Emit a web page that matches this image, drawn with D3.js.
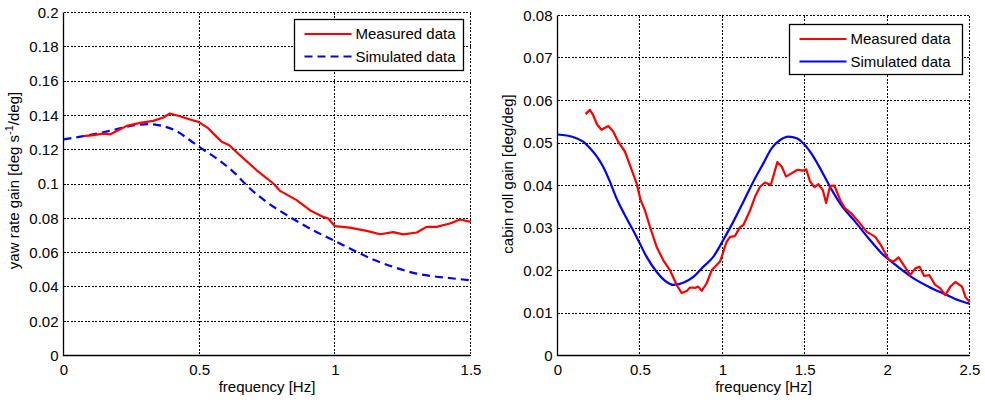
<!DOCTYPE html>
<html>
<head>
<meta charset="utf-8">
<script src="https://cdn.jsdelivr.net/npm/d3@7"></script>
<style>
    body { margin: 0; background: #fff; }
    svg text { font-family: "Liberation Sans", Arial, sans-serif; font-size: 15px; fill: #000; }
</style>
</head>
<body>
<div id="chart"></div>
<script>
// yaw rate gain (left panel)
const yawFreqMeas = [0.073, 0.11, 0.147, 0.171, 0.202, 0.233, 0.282, 0.331, 0.368, 0.392, 0.429, 0.466, 0.497, 0.534, 0.558, 0.583, 0.611, 0.650, 0.712, 0.773, 0.798, 0.859, 0.908, 0.957, 0.976, 1.0, 1.055, 1.117, 1.167, 1.215, 1.252, 1.302, 1.338, 1.375, 1.424, 1.461, 1.5];
const yawGainMeas = [0.1279, 0.1285, 0.1294, 0.1289, 0.1314, 0.1339, 0.1356, 0.1368, 0.1388, 0.1411, 0.1395, 0.1376, 0.1362, 0.1324, 0.1285, 0.1246, 0.1226, 0.1168, 0.108, 0.1003, 0.096, 0.0906, 0.0847, 0.0808, 0.0799, 0.0754, 0.0746, 0.0727, 0.0707, 0.0719, 0.0706, 0.0717, 0.075, 0.075, 0.077, 0.0793, 0.0779];
const yawFreqSim = [0, 0.073, 0.171, 0.256, 0.318, 0.368, 0.417, 0.466, 0.503, 0.564, 0.626, 0.687, 0.748, 0.834, 0.919, 1.0, 1.068, 1.141, 1.215, 1.289, 1.363, 1.437, 1.5];
const yawGainSim = [0.126, 0.1279, 0.131, 0.1341, 0.1349, 0.1337, 0.1308, 0.1255, 0.1213, 0.1149, 0.1071, 0.0974, 0.0896, 0.0808, 0.0731, 0.0668, 0.0614, 0.056, 0.0517, 0.0482, 0.0462, 0.0449, 0.0439];

// cabin roll gain (right panel)
const rollFreqMeas = [0.170, 0.196, 0.216, 0.241, 0.267, 0.308, 0.338, 0.368, 0.409, 0.45, 0.48, 0.504, 0.530, 0.561, 0.601, 0.642, 0.682, 0.723, 0.753, 0.784, 0.804, 0.834, 0.854, 0.875, 0.905, 0.936, 0.986, 0.996, 1.016, 1.027, 1.047, 1.077, 1.107, 1.128, 1.168, 1.199, 1.229, 1.259, 1.294, 1.334, 1.361, 1.387, 1.422, 1.456, 1.488, 1.509, 1.533, 1.559, 1.583, 1.610, 1.630, 1.654, 1.680, 1.715, 1.745, 1.786, 1.826, 1.877, 1.928, 1.968, 2.009, 2.039, 2.069, 2.100, 2.140, 2.171, 2.197, 2.225, 2.256, 2.292, 2.323, 2.353, 2.384, 2.414, 2.455, 2.475, 2.5];
const rollGainMeas = [0.0568, 0.0578, 0.0566, 0.0543, 0.0531, 0.054, 0.0527, 0.0503, 0.048, 0.0437, 0.0405, 0.0366, 0.0342, 0.0303, 0.0256, 0.0224, 0.0201, 0.0166, 0.0147, 0.0152, 0.016, 0.0159, 0.0162, 0.0152, 0.017, 0.0201, 0.0221, 0.0232, 0.0256, 0.0268, 0.0279, 0.0281, 0.0302, 0.0307, 0.0341, 0.0374, 0.0397, 0.0407, 0.0401, 0.0455, 0.0444, 0.0421, 0.0429, 0.0437, 0.0435, 0.0438, 0.0409, 0.0396, 0.0403, 0.0389, 0.0359, 0.0399, 0.04, 0.0366, 0.0346, 0.0333, 0.0315, 0.0291, 0.0279, 0.0256, 0.0226, 0.0221, 0.0231, 0.0213, 0.0189, 0.0205, 0.0209, 0.0187, 0.0189, 0.0166, 0.0158, 0.0142, 0.0162, 0.0173, 0.0162, 0.0138, 0.0126];
const rollFreqSim = [0, 0.095, 0.156, 0.196, 0.237, 0.277, 0.318, 0.358, 0.419, 0.48, 0.541, 0.601, 0.662, 0.702, 0.763, 0.824, 0.885, 0.945, 1.006, 1.067, 1.128, 1.188, 1.249, 1.300, 1.351, 1.401, 1.452, 1.492, 1.543, 1.604, 1.665, 1.725, 1.806, 1.887, 1.968, 2.051, 2.151, 2.252, 2.353, 2.434, 2.5];
const rollGainSim = [0.052, 0.0514, 0.0503, 0.0488, 0.0469, 0.0444, 0.0409, 0.0370, 0.0323, 0.0279, 0.0232, 0.0197, 0.0173, 0.0166, 0.0171, 0.0185, 0.0209, 0.0232, 0.0272, 0.0315, 0.0362, 0.0409, 0.0452, 0.0488, 0.0507, 0.0515, 0.0511, 0.0499, 0.0474, 0.0433, 0.0389, 0.0352, 0.0315, 0.0276, 0.024, 0.0213, 0.0184, 0.0162, 0.0144, 0.013, 0.0122];

const legendLabels = ['Measured data', 'Simulated data'];
const yawXTicks = [0, 0.5, 1, 1.5];
const yawYTicks = [0, 0.02, 0.04, 0.06, 0.08, 0.1, 0.12, 0.14, 0.16, 0.18, 0.2];
const rollXTicks = [0, 0.5, 1, 1.5, 2, 2.5];
const rollYTicks = [0, 0.01, 0.02, 0.03, 0.04, 0.05, 0.06, 0.07, 0.08];

const width = 985;
const height = 404;
const font = '"Liberation Sans", Arial, sans-serif';

const svg = d3.select('#chart')
    .append('svg')
    .attr('width', width)
    .attr('height', height);

svg.append('rect').attr('width', width).attr('height', height).attr('fill', '#fff');

const zip = (xs, ys) => xs.map((x, i) => [x, ys[i]]);
const snap = v => Math.round(v - 0.5) + 0.5;

/**
 * draws one panel: grid, frame, tick labels, lines and legend
 */
function panel (opts) {
    const x = d3.scaleLinear().domain(opts.xDomain).range([opts.left, opts.right]);
    const y = d3.scaleLinear().domain(opts.yDomain).range([opts.bottom, opts.top]);
    const g = svg.append('g');

    // GRID
    g.append('g')
        .selectAll('line')
        .data(opts.xTicks)
        .enter()
        .append('line')
        .attr('x1', d => snap(x(d))).attr('x2', d => snap(x(d)))
        .attr('y1', opts.top).attr('y2', opts.bottom)
        .attr('stroke', '#000').attr('stroke-width', 1)
        .attr('stroke-dasharray', '2,1.5')
        .attr('shape-rendering', 'crispEdges');

    g.append('g')
        .selectAll('line')
        .data(opts.yTicks)
        .enter()
        .append('line')
        .attr('y1', d => snap(y(d))).attr('y2', d => snap(y(d)))
        .attr('x1', opts.left).attr('x2', opts.right)
        .attr('stroke', '#000').attr('stroke-width', 1)
        .attr('stroke-dasharray', '2,1.5')
        .attr('shape-rendering', 'crispEdges');

    // FRAME (left / bottom solid)
    g.append('path')
        .attr('d', `M${opts.left} ${opts.top} V${opts.bottom} H${opts.right}`)
        .attr('fill', 'none').attr('stroke', '#000').attr('stroke-width', 1.3);

    // TICK LABELS
    const xAxis = d3.axisBottom(x).tickValues(opts.xTicks).tickSize(0).tickPadding(9)
        .tickFormat(d3.format('~g'));
    g.append('g')
        .attr('transform', `translate(0 ${opts.bottom})`)
        .call(xAxis)
        .call(s => s.select('.domain').remove())
        .selectAll('text')
        .style('font-size', '15px')
        .style('font-family', font);

    const yAxis = d3.axisLeft(y).tickValues(opts.yTicks).tickSize(0).tickPadding(5)
        .tickFormat(d3.format('~g'));
    g.append('g')
        .attr('transform', `translate(${opts.left} 0)`)
        .call(yAxis)
        .call(s => s.select('.domain').remove())
        .selectAll('text')
        .style('font-size', '15px')
        .style('font-family', font);

    // AXIS LABELS
    g.append('text')
        .attr('x', (opts.left + opts.right) / 2)
        .attr('y', 392)
        .attr('text-anchor', 'middle')
        .text('frequency [Hz]');

    const yl = g.append('text')
        .attr('transform', `translate(${opts.yLabelX} ${opts.yLabelY}) rotate(-90)`)
        .attr('text-anchor', 'middle');
    opts.yLabel(yl);

    // LINES
    const line = d3.line().x(d => x(d[0])).y(d => y(d[1]));
    const smooth = d3.line().x(d => x(d[0])).y(d => y(d[1])).curve(d3.curveMonotoneX);

    g.append('path')
        .datum(opts.sim)
        .attr('d', smooth)
        .attr('fill', 'none')
        .attr('stroke', '#0000ff')
        .attr('stroke-width', 2.2)
        .attr('stroke-dasharray', opts.simDash);

    g.append('path')
        .datum(opts.meas)
        .attr('d', line)
        .attr('fill', 'none')
        .attr('stroke', '#ff0000')
        .attr('stroke-width', 2.2)
        .attr('stroke-linejoin', 'round');

    // LEGEND
    const lg = g.append('g').attr('transform', `translate(${opts.legend[0]} ${opts.legend[1]})`);
    lg.append('rect')
        .attr('width', opts.legend[2]).attr('height', opts.legend[3])
        .attr('fill', '#fff').attr('stroke', '#000').attr('stroke-width', 1.3);
    const rows = lg.selectAll('g.row')
        .data(legendLabels)
        .enter()
        .append('g')
        .attr('transform', (d, i) => `translate(0 ${14.5 + i * 22.5})`);
    rows.append('line')
        .attr('x1', 10).attr('x2', 57)
        .attr('stroke', (d, i) => i ? '#0000ff' : '#ff0000')
        .attr('stroke-width', 2.2)
        .attr('stroke-dasharray', (d, i) => i ? opts.simDash : null);
    rows.append('text')
        .attr('x', 61)
        .attr('dy', '0.36em')
        .text(d => d);
}

panel({
    left: 63.5, right: 470.5, top: 12.5, bottom: 355.5,
    xDomain: [0, 1.5], yDomain: [0, 0.2],
    xTicks: yawXTicks, yTicks: yawYTicks,
    meas: zip(yawFreqMeas, yawGainMeas),
    sim: zip(yawFreqSim, yawGainSim),
    simDash: '8,5',
    legend: [294.5, 19.5, 169, 51],
    yLabelX: 19,
    yLabelY: 180.5,
    yLabel: t => {
        t.append('tspan').text('yaw rate gain [deg s');
        t.append('tspan').attr('baseline-shift', 'super').style('font-size', '11px').text('-1');
        t.append('tspan').text('/deg]');
    }
});

panel({
    left: 557.5, right: 969.5, top: 15.5, bottom: 355.5,
    xDomain: [0, 2.5], yDomain: [0, 0.08],
    xTicks: rollXTicks, yTicks: rollYTicks,
    meas: zip(rollFreqMeas, rollGainMeas),
    sim: zip(rollFreqSim, rollGainSim),
    simDash: null,
    legend: [789.5, 24.5, 173, 50],
    yLabelX: 513,
    yLabelY: 174,
    yLabel: t => t.text('cabin roll gain [deg/deg]')
});
</script>
</body>
</html>
